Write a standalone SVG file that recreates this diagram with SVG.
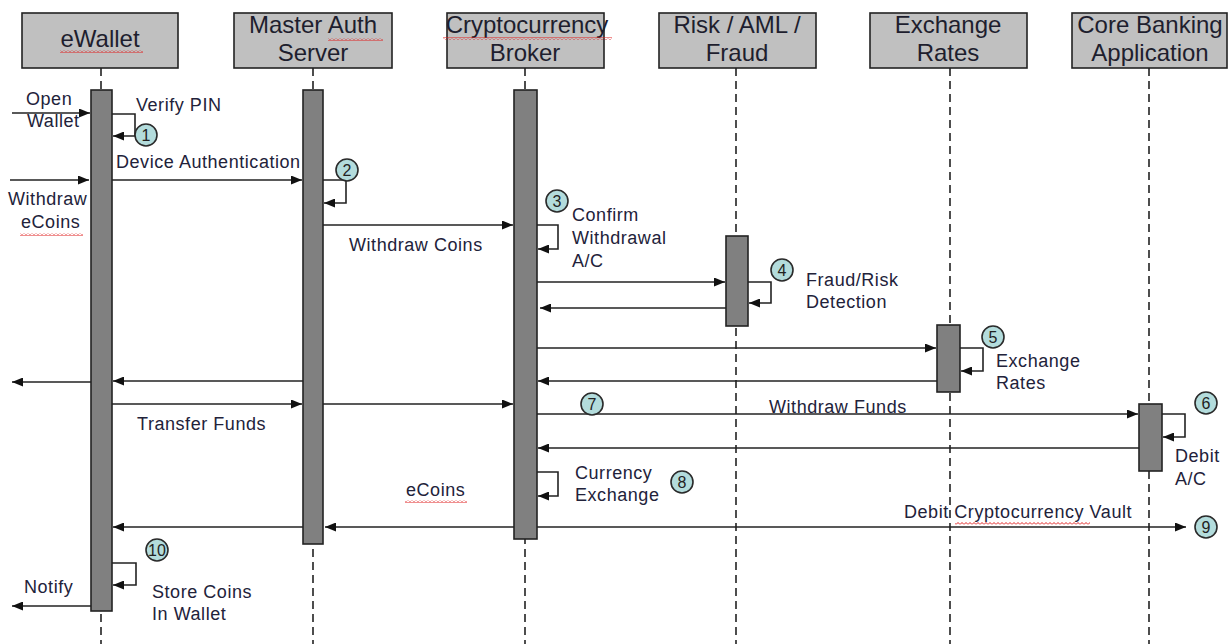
<svg xmlns="http://www.w3.org/2000/svg" width="1228" height="644" viewBox="0 0 1228 644">
<style>
.hdr{fill:#c0c0c0;stroke:#222;stroke-width:1.6}
.ht{font-family:"Liberation Sans",Arial,sans-serif;font-size:24px;fill:#1e1e2e;text-anchor:middle}
.life{stroke:#222;stroke-width:1.6;stroke-dasharray:8 5;fill:none}
.bar{fill:#808080;stroke:#222;stroke-width:1.6}
.msg{stroke:#222;stroke-width:1.6;fill:none}
.arr{marker-end:url(#ah)}
.lbl{font-family:"Liberation Sans",Arial,sans-serif;font-size:18px;fill:#22223a;letter-spacing:0.55px}
.num circle{fill:#b3dcdc;stroke:#2a2a2a;stroke-width:1.6}
.num text{font-family:"Liberation Sans",Arial,sans-serif;font-size:16px;fill:#222;text-anchor:middle}
.sq{fill:url(#sqp)}
</style>
<defs>
<marker id="ah" viewBox="0 0 11 9" refX="11" refY="4.5" markerWidth="11" markerHeight="9" markerUnits="userSpaceOnUse" orient="auto">
<path d="M0,0 L11,4.5 L0,9 z" fill="#111"/>
</marker>
<pattern id="sqp" width="4" height="3" patternUnits="userSpaceOnUse">
<path d="M0,2.5 L2,0.5 L4,2.5" stroke="#e02020" stroke-width="1" fill="none"/>
</pattern>
</defs>
<rect width="1228" height="644" fill="#fff"/>

<g id="lifelines">
<line class="life" x1="101" y1="68" x2="101" y2="644"/>
<line class="life" x1="313" y1="68" x2="313" y2="644"/>
<line class="life" x1="525" y1="68" x2="525" y2="644"/>
<line class="life" x1="736" y1="68" x2="736" y2="644"/>
<line class="life" x1="950" y1="68" x2="950" y2="644"/>
<line class="life" x1="1149" y1="68" x2="1149" y2="644"/>
</g>

<g id="ewallet">
<rect class="hdr" x="22" y="13" width="156" height="55"/>
<text class="ht" x="100" y="47">eWallet</text>
<rect class="sq" x="60" y="50" width="83" height="3"/>
<rect class="bar" x="91" y="90" width="21" height="521"/>
</g>
<g id="master-auth">
<rect class="hdr" x="234" y="13" width="158" height="55"/>
<text class="ht" x="313" y="33">Master Auth</text>
<text class="ht" x="313" y="61">Server</text>
<rect class="sq" x="328" y="38" width="55" height="3"/>
<rect class="bar" x="303" y="90" width="20" height="454"/>
</g>
<g id="crypto-broker">
<rect class="hdr" x="447" y="13" width="157" height="55"/>
<text class="ht" x="527" y="33">Cryptocurrency</text>
<text class="ht" x="525" y="61">Broker</text>
<rect class="sq" x="443" y="37" width="169" height="3"/>
<rect class="bar" x="514" y="90" width="23" height="449"/>
</g>
<g id="risk">
<rect class="hdr" x="659" y="13" width="157" height="55"/>
<text class="ht" x="737" y="33">Risk / AML /</text>
<text class="ht" x="737" y="61">Fraud</text>
<rect class="bar" x="726" y="236" width="22" height="90"/>
</g>
<g id="exchange-rates">
<rect class="hdr" x="870" y="13" width="157" height="55"/>
<text class="ht" x="948" y="33">Exchange</text>
<text class="ht" x="948" y="61">Rates</text>
<rect class="bar" x="937" y="325" width="23" height="67"/>
</g>
<g id="core-banking">
<rect class="hdr" x="1072" y="13" width="155" height="55"/>
<text class="ht" x="1150" y="33">Core Banking</text>
<text class="ht" x="1150" y="61">Application</text>
<rect class="bar" x="1139" y="404" width="23" height="67"/>
</g>

<g id="connectors">
<path class="msg arr" d="M12,113 H90"/>
<path class="msg arr" d="M112,114 H135 V136 H113"/>
<path class="msg arr" d="M10,180 H89"/>
<path class="msg arr" d="M112,180 H302"/>
<path class="msg arr" d="M323,180 H346 V203 H324"/>
<path class="msg arr" d="M323,225 H513"/>
<path class="msg arr" d="M537,225 H558 V249 H538"/>
<path class="msg arr" d="M537,282 H725"/>
<path class="msg arr" d="M726,308 H540"/>
<path class="msg arr" d="M748,282 H771 V303 H749"/>
<path class="msg arr" d="M537,348 H936"/>
<path class="msg arr" d="M960,348 H983 V371 H961"/>
<path class="msg arr" d="M937,381 H538"/>
<path class="msg arr" d="M303,381 H113"/>
<path class="msg arr" d="M91,382 H12"/>
<path class="msg arr" d="M112,404 H302"/>
<path class="msg arr" d="M323,404 H513"/>
<path class="msg arr" d="M537,414 H1138"/>
<path class="msg arr" d="M1162,414 H1185 V437 H1163"/>
<path class="msg arr" d="M1139,448 H538"/>
<path class="msg arr" d="M537,472 H558 V496 H538"/>
<path class="msg arr" d="M514,527 H325"/>
<path class="msg arr" d="M303,527 H113"/>
<path class="msg arr" d="M537,527 H1186"/>
<path class="msg arr" d="M112,563 H136 V585 H113"/>
<path class="msg arr" d="M91,606 H12"/>
</g>

<g id="labels">
<text class="lbl" x="26" y="105">Open</text>
<text class="lbl" x="27" y="127">Wallet</text>
<text class="lbl" x="136" y="111">Verify PIN</text>
<text class="lbl" x="116" y="168">Device Authentication</text>
<text class="lbl" x="8" y="205">Withdraw</text>
<text class="lbl" x="21" y="228">eCoins</text>
<rect class="sq" x="20" y="233" width="63" height="3"/>
<text class="lbl" x="349" y="251">Withdraw Coins</text>
<text class="lbl" x="572" y="221">Confirm</text>
<text class="lbl" x="572" y="244">Withdrawal</text>
<text class="lbl" x="572" y="267">A/C</text>
<text class="lbl" x="806" y="286">Fraud/Risk</text>
<text class="lbl" x="806" y="308">Detection</text>
<text class="lbl" x="996" y="367">Exchange</text>
<text class="lbl" x="996" y="389">Rates</text>
<text class="lbl" x="137" y="430">Transfer Funds</text>
<text class="lbl" x="769" y="413">Withdraw Funds</text>
<text class="lbl" x="1175" y="462">Debit</text>
<text class="lbl" x="1175" y="485">A/C</text>
<text class="lbl" x="575" y="479">Currency</text>
<text class="lbl" x="575" y="501">Exchange</text>
<text class="lbl" x="406" y="496">eCoins</text>
<rect class="sq" x="405" y="500" width="62" height="3"/>
<text class="lbl" x="904" y="518">Debit Cryptocurrency Vault</text>
<rect class="sq" x="955" y="522" width="135" height="3"/>
<text class="lbl" x="152" y="598">Store Coins</text>
<text class="lbl" x="152" y="620">In Wallet</text>
<text class="lbl" x="24" y="593">Notify</text>
</g>

<g id="step-numbers" class="num">
<g><circle cx="146" cy="135" r="11"/><text x="146" y="140.5">1</text></g>
<g><circle cx="347" cy="170" r="11"/><text x="347" y="175.5">2</text></g>
<g><circle cx="557" cy="201" r="11"/><text x="557" y="206.5">3</text></g>
<g><circle cx="782" cy="270" r="11"/><text x="782" y="275.5">4</text></g>
<g><circle cx="993" cy="337" r="11"/><text x="993" y="342.5">5</text></g>
<g><circle cx="1206" cy="403" r="11"/><text x="1206" y="408.5">6</text></g>
<g><circle cx="592" cy="404" r="11"/><text x="592" y="409.5">7</text></g>
<g><circle cx="682" cy="482" r="11"/><text x="682" y="487.5">8</text></g>
<g><circle cx="1206" cy="527" r="11"/><text x="1206" y="532.5">9</text></g>
<g><circle cx="157" cy="550" r="11"/><text x="157" y="555.5">10</text></g>
</g>
</svg>
